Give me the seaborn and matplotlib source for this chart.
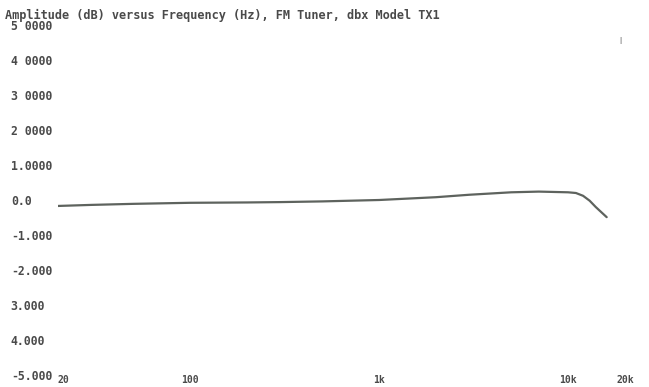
import matplotlib
matplotlib.use('Agg')

import matplotlib.pyplot as plt
import seaborn as sns
import pandas as pd

# Frequency response
freq_hz = [20, 30, 50, 100, 200, 300, 500, 1000, 2000, 3000, 5000, 7000,
           10000, 11000, 12000, 13000, 14000, 15000, 16000]
amp_db = [-0.17, -0.14, -0.11, -0.08, -0.07, -0.06, -0.04, 0.0, 0.08, 0.15,
          0.22, 0.24, 0.22, 0.2, 0.12, -0.02, -0.2, -0.35, -0.49]

y_ticks = [5, 4, 3, 2, 1, 0, -1, -2, -3, -4, -5]
y_labels = ['5 0000', '4 0000', '3 0000', '2 0000', '1.0000', '0.0',
            '-1.000', '-2.000', '3.000', '4.000', '-5.000']
x_ticks = [20, 100, 1000, 10000, 20000]
x_labels = ['20', '100', '1k', '10k', '20k']

title = 'Amplitude (dB) versus Frequency (Hz), FM Tuner, dbx Model TX1'

df = pd.DataFrame({'freq': freq_hz, 'amp': amp_db})

sns.set_style('white')
plt.rcParams['font.family'] = ['DejaVu Sans Mono']
text_color = '#4a4a4a'

fig = plt.figure(figsize=(6.49, 3.87), dpi=100)
ax = fig.add_axes([58 / 649, 1 - 375 / 387, (625 - 58) / 649, (375 - 25) / 387])

sns.lineplot(data=df, x='freq', y='amp', ax=ax, color='#5e635e', linewidth=1.6)

ax.set_xscale('log')
ax.set_xlim(20, 20000)
ax.set_ylim(-5, 5)
ax.minorticks_off()
ax.set_xticks(x_ticks)
ax.set_xticklabels(x_labels)
ax.set_yticks(y_ticks)
ax.set_yticklabels(y_labels, ha='left')
ax.tick_params(axis='y', length=0, pad=34, labelsize=8.3, labelcolor=text_color)
ax.tick_params(axis='x', length=0, pad=0, labelsize=7, labelcolor=text_color)
for lab in ax.get_xticklabels() + ax.get_yticklabels():
    lab.set_fontweight('bold')
ax.get_xticklabels()[0].set_ha('left')
ax.set_xlabel('')
ax.set_ylabel('')
sns.despine(ax=ax, left=True, bottom=True)

fig.text(5 / 649, 1 - 15 / 387, title, fontsize=8.6, color=text_color,
         fontweight='bold', va='center', ha='left')
fig.text(620 / 649, 1 - 40 / 387, '|', fontsize=5, color=text_color,
         va='center', ha='center')

fig.savefig('out.png', dpi=100)
